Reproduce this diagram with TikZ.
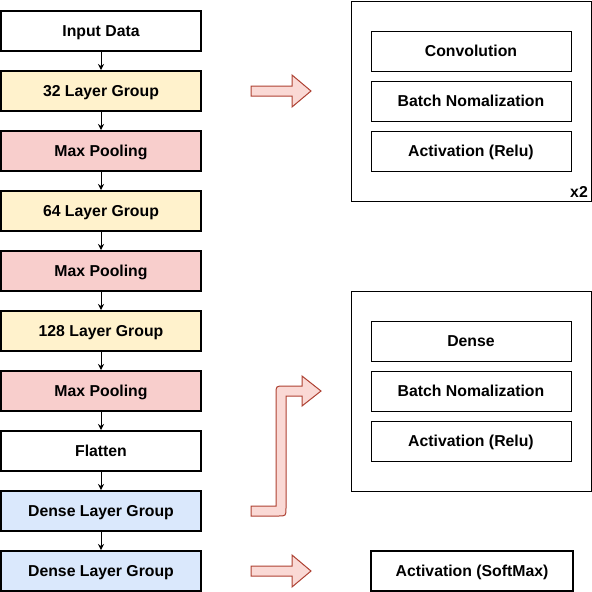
\documentclass[tikz,border=0pt]{standalone}
\usepackage{fontspec}
\setmainfont{Liberation Sans}
\usetikzlibrary{arrows.meta}
\definecolor{ylw}{HTML}{FFF2CC}
\definecolor{rdf}{HTML}{F8CECC}
\definecolor{blf}{HTML}{DAE8FC}
\definecolor{arf}{HTML}{FAD9D5}
\definecolor{ars}{HTML}{AE4132}
\begin{document}
\begin{tikzpicture}[x=1pt,y=-1pt,
  txt/.style={font=\fontsize{15.8}{18}\selectfont\bfseries,text height=12pt,text depth=1pt},
  lbox/.style={txt,draw=black,line width=2pt,minimum width=200pt,minimum height=40pt,inner sep=0pt},
  rbox/.style={txt,draw=black,line width=1pt,minimum width=200pt,minimum height=40pt,inner sep=0pt},
  grp/.style={draw=black,line width=1pt,minimum width=240pt,minimum height=200pt,inner sep=0pt},
  conn/.style={draw=black,line width=1pt,-{Stealth[length=6pt,width=6pt]}},
  bigarrow/.style={fill=arf,draw=ars,line width=1pt,line join=miter}]
\useasboundingbox (0,0) rectangle (592,592);
\node[lbox,fill=white] (n1) at (101,31) {Input Data};
\node[lbox,fill=ylw] (n2) at (101,91) {32 Layer Group};
\node[lbox,fill=rdf] (n3) at (101,151) {Max Pooling};
\node[lbox,fill=ylw] (n4) at (101,211) {64 Layer Group};
\node[lbox,fill=rdf] (n5) at (101,271) {Max Pooling};
\node[lbox,fill=ylw] (n6) at (101,331) {128 Layer Group};
\node[lbox,fill=rdf] (n7) at (101,391) {Max Pooling};
\node[lbox,fill=white] (n8) at (101,451) {Flatten};
\node[lbox,fill=blf] (n9) at (101,511) {Dense Layer Group};
\node[lbox,fill=blf] (n10) at (101,571) {Dense Layer Group};
\foreach \a/\b in {n1/n2,n2/n3,n3/n4,n4/n5,n5/n6,n6/n7,n7/n8,n8/n9,n9/n10}
  \draw[conn] (\a.south) -- (\b.north);
% group 1
\node[grp] (g1) at (471,101) {};
\node[rbox] (c1) at (471,51) {Convolution};
\node[rbox] (c2) at (471,101) {Batch Nomalization};
\node[rbox] (c3) at (471,151) {Activation (Relu)};
\node[anchor=base east,inner sep=0pt,font=\fontsize{15.8}{18}\selectfont\bfseries] (x2) at (588,197) {x2};
% group 2
\node[grp] (g2) at (471,391) {};
\node[rbox] (d1) at (471,341) {Dense};
\node[rbox] (d2) at (471,391) {Batch Nomalization};
\node[rbox] (d3) at (471,441) {Activation (Relu)};
% softmax
\node[lbox,fill=white,minimum width=202pt] (sm) at (472,571) {Activation (SoftMax)};
% big arrows
\draw[bigarrow] (251,86) -- (292,86) -- (292,75) -- (311,91) -- (292,107) -- (292,96) -- (251,96) -- cycle;
\draw[bigarrow] (251,566) -- (292,566) -- (292,555) -- (311,571) -- (292,587) -- (292,576) -- (251,576) -- cycle;
\draw[bigarrow] (251,506) -- (276,506) -- (276,394) .. controls (276,386) .. (284,386) -- (302,386) -- (302,376) -- (321,391) -- (302,406) -- (302,396) -- (286,396) -- (286,508) .. controls (286,516) .. (278,516) -- (251,516) -- cycle;
\end{tikzpicture}
\end{document}
